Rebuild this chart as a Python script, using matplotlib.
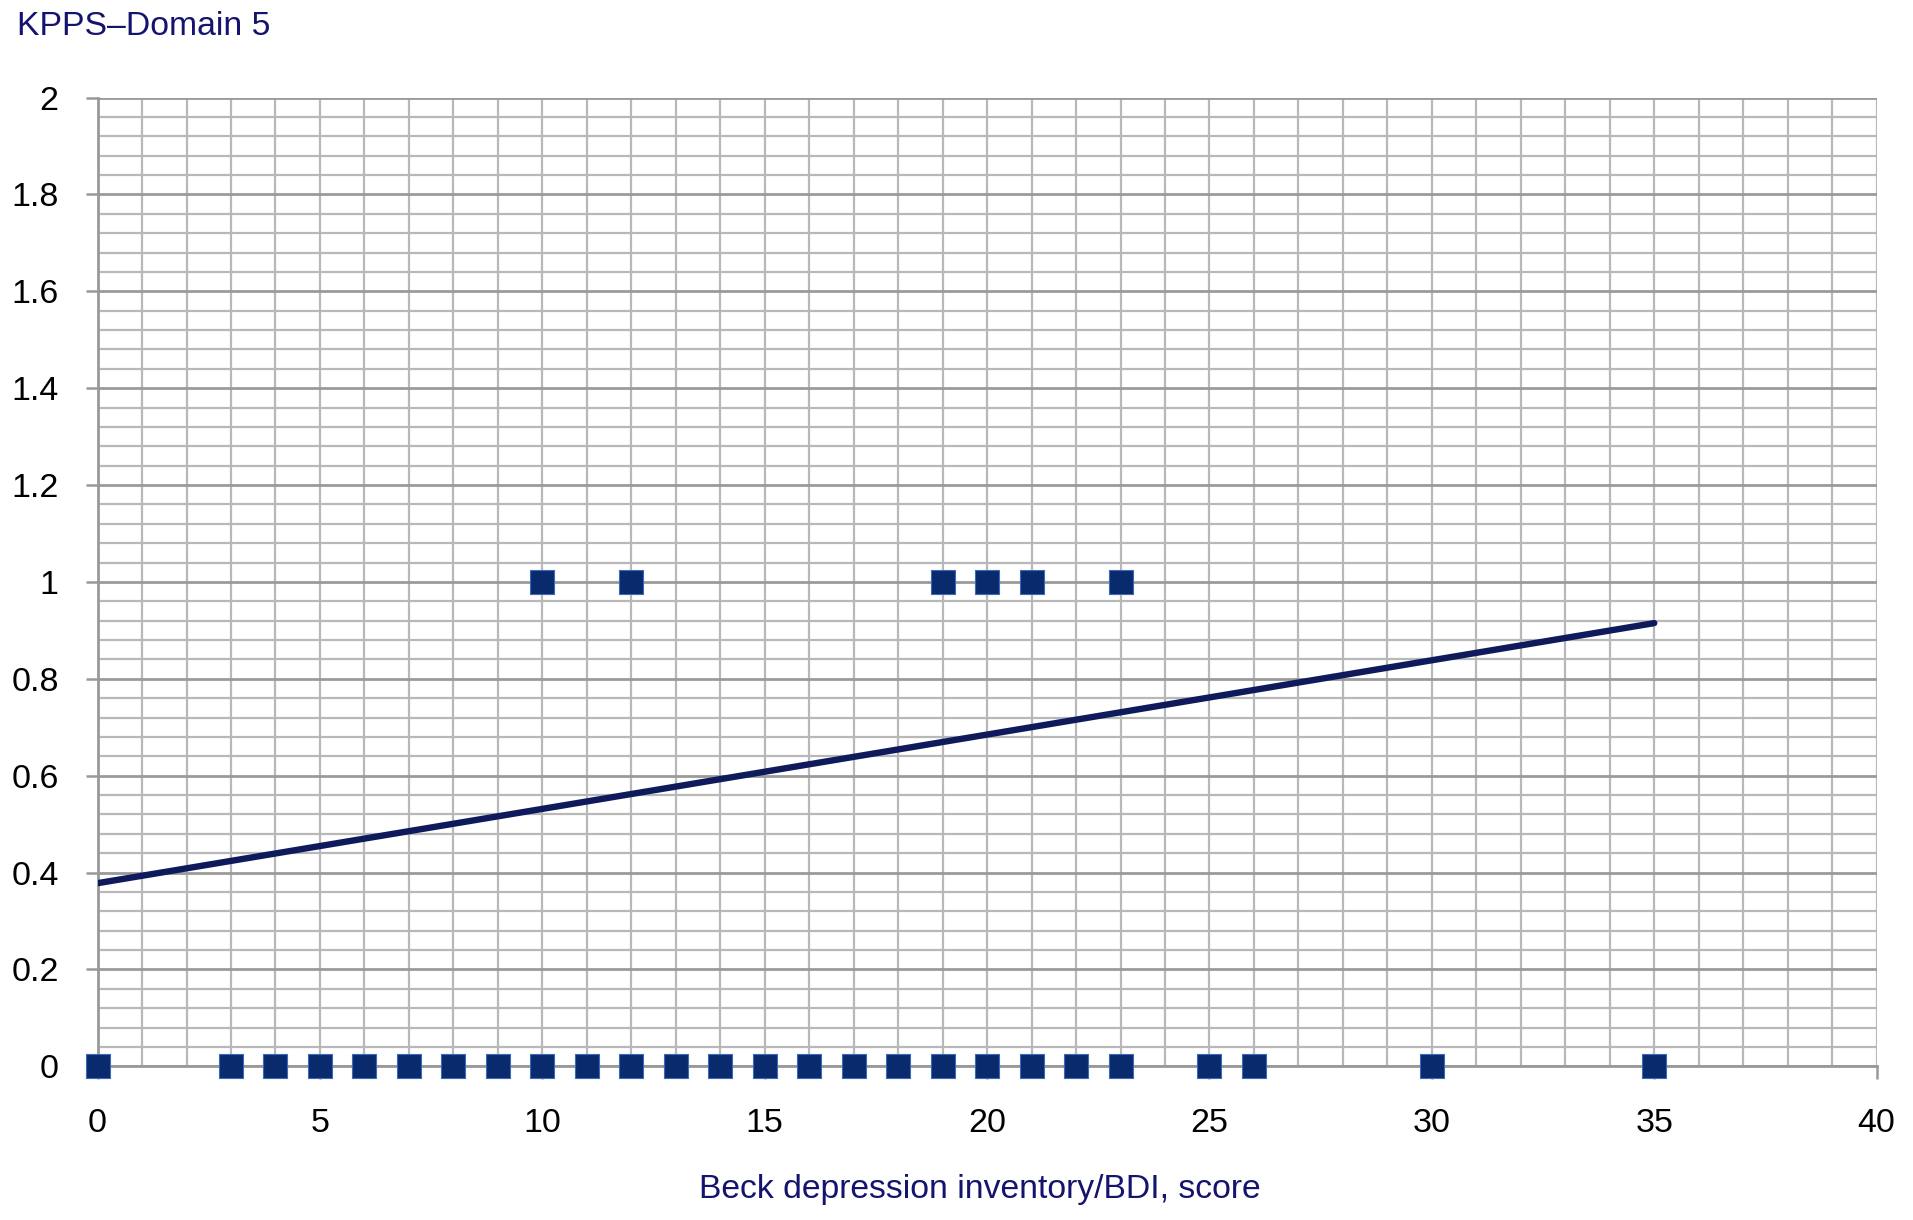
import matplotlib
matplotlib.use("Agg")
import matplotlib.pyplot as plt
import numpy as np
from matplotlib.ticker import MultipleLocator, FuncFormatter

# Data
bdi_zero = [0, 3, 4, 5, 6, 7, 8, 9, 10, 11, 12, 13, 14, 15, 16, 17, 18, 19, 20, 21, 22, 23, 25, 26, 30, 35]
bdi_one = [10, 12, 19, 20, 21, 23]
kpps_zero = [0] * len(bdi_zero)
kpps_one = [1] * len(bdi_one)
trend_x = [0, 35]
trend_y = [0.378, 0.915]

plt.rcParams['font.family'] = ['Liberation Sans', 'DejaVu Sans']

fig = plt.figure(figsize=(19.13, 12.2), dpi=100)
ax = fig.add_axes([0.051, 0.126, 0.930, 0.794])

navy = '#14146e'
grid_c = '#b8b8b8'

ax.set_xlim(0, 40)
ax.set_ylim(0, 2)
ax.xaxis.set_major_locator(MultipleLocator(5))
ax.xaxis.set_minor_locator(MultipleLocator(1))
ax.yaxis.set_major_locator(MultipleLocator(0.2))
ax.yaxis.set_minor_locator(MultipleLocator(0.04))
ax.yaxis.set_major_formatter(FuncFormatter(lambda v, p: f"{v:g}"))

ax.grid(which='minor', color=grid_c, linewidth=1.6, zorder=0)
ax.grid(which='major', axis='x', color=grid_c, linewidth=1.6, zorder=0)
ax.grid(which='major', axis='y', color='#9a9a9a', linewidth=2.0, zorder=0)

for s in ['top', 'right']:
    ax.spines[s].set_visible(False)
for s in ['left', 'bottom']:
    ax.spines[s].set_color('#999999')
    ax.spines[s].set_linewidth(2)

ax.tick_params(axis='both', which='major', length=9, width=1.8, color='#999999',
               labelsize=24.5, labelcolor='black')
ax.tick_params(axis='x', which='major', pad=21)
ax.tick_params(axis='y', which='major', pad=19)
ax.tick_params(which='minor', length=0)

ax.plot(trend_x, trend_y, color='#0f1a5c', linewidth=4.6, solid_capstyle='round', zorder=3)
ax.scatter(bdi_zero, kpps_zero, marker='s', s=290, color='#0a2a6e',
           edgecolors='#3a6ab8', linewidths=0.8, zorder=4, clip_on=False)
ax.scatter(bdi_one, kpps_one, marker='s', s=290, color='#0a2a6e',
           edgecolors='#3a6ab8', linewidths=0.8, zorder=4, clip_on=False)

fig.text(0.009, 0.978, 'KPPS–Domain 5', color=navy, fontsize=24.3, ha='left', va='center')
fig.text(0.512, 0.025, 'Beck depression inventory/BDI, score', color=navy, fontsize=24.3,
         ha='center', va='center')

fig.savefig('out.png', dpi=100)
